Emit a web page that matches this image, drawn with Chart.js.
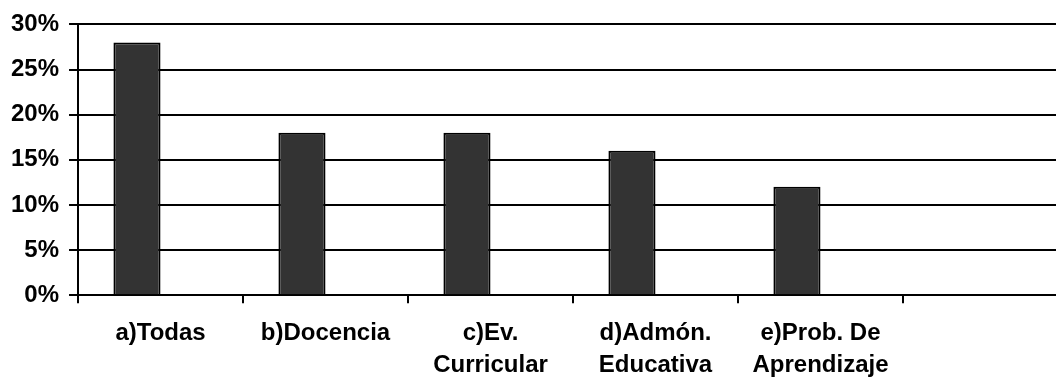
<!DOCTYPE html>
<html>
<head>
<meta charset="utf-8">
<script src="https://cdn.jsdelivr.net/npm/chart.js@4"></script>
<style>
  html, body { margin: 0; padding: 0; background: #fff; overflow: hidden; }
  #wrap { width: 1070px; height: 395px; position: relative; }
</style>
</head>
<body>
<div id="wrap"><canvas id="myChart"></canvas></div>
<script>
var categories = ['a)Todas', 'b)Docencia', ['c)Ev.', 'Curricular'], ['d)Admón.', 'Educativa'], ['e)Prob. De', 'Aprendizaje'], ''];
var porcentajes = [28, 18, 18, 16, 12, null];
var vacia = [null, null, null, null, null, null];
var yTicks = [0, 5, 10, 15, 20, 25, 30];

Chart.defaults.font.family = '"Liberation Sans", Arial, sans-serif';
Chart.defaults.font.weight = 'bold';
Chart.defaults.color = '#000';

var ctx = document.getElementById('myChart').getContext('2d');
var myChart = new Chart(ctx, {
    type: 'bar',
    data: {
        labels: categories,
        datasets: [{
            data: porcentajes,
            backgroundColor: '#333333',
            borderColor: '#000',
            borderWidth: 2,
            barPercentage: 1,
            categoryPercentage: 0.571
        }, {
            // empty second series keeps the bars left of the category centre
            data: vacia,
            backgroundColor: '#fff',
            barPercentage: 1,
            categoryPercentage: 0.571
        }]
    },
    options: {
        responsive: true,
        maintainAspectRatio: false,
        animation: false,
        layout: {
            padding: { left: 1, right: 2, top: 15, bottom: 0 }
        },
        plugins: {
            legend: { display: false },
            tooltip: { enabled: false }
        },
        scales: {
            x: {
                offset: true,
                grid: {
                    offset: true,
                    drawOnChartArea: false,
                    drawTicks: true,
                    tickLength: 8,
                    color: '#000',
                    lineWidth: 2
                },
                border: { color: '#000', width: 2 },
                ticks: {
                    maxRotation: 0,
                    autoSkip: false,
                    padding: 14,
                    font: { size: 24, weight: 'bold', lineHeight: 1.33 }
                }
            },
            y: {
                min: 0,
                max: 30,
                afterBuildTicks: function (axis) {
                    axis.ticks = yTicks.map(function (v) { return { value: v }; });
                },
                grid: {
                    color: '#000',
                    lineWidth: 2,
                    tickLength: 9
                },
                border: { color: '#000', width: 2 },
                ticks: {
                    padding: 10,
                    font: { size: 24, weight: 'bold' },
                    callback: function (v) { return v + '%'; }
                }
            }
        }
    }
});
</script>
</body>
</html>
